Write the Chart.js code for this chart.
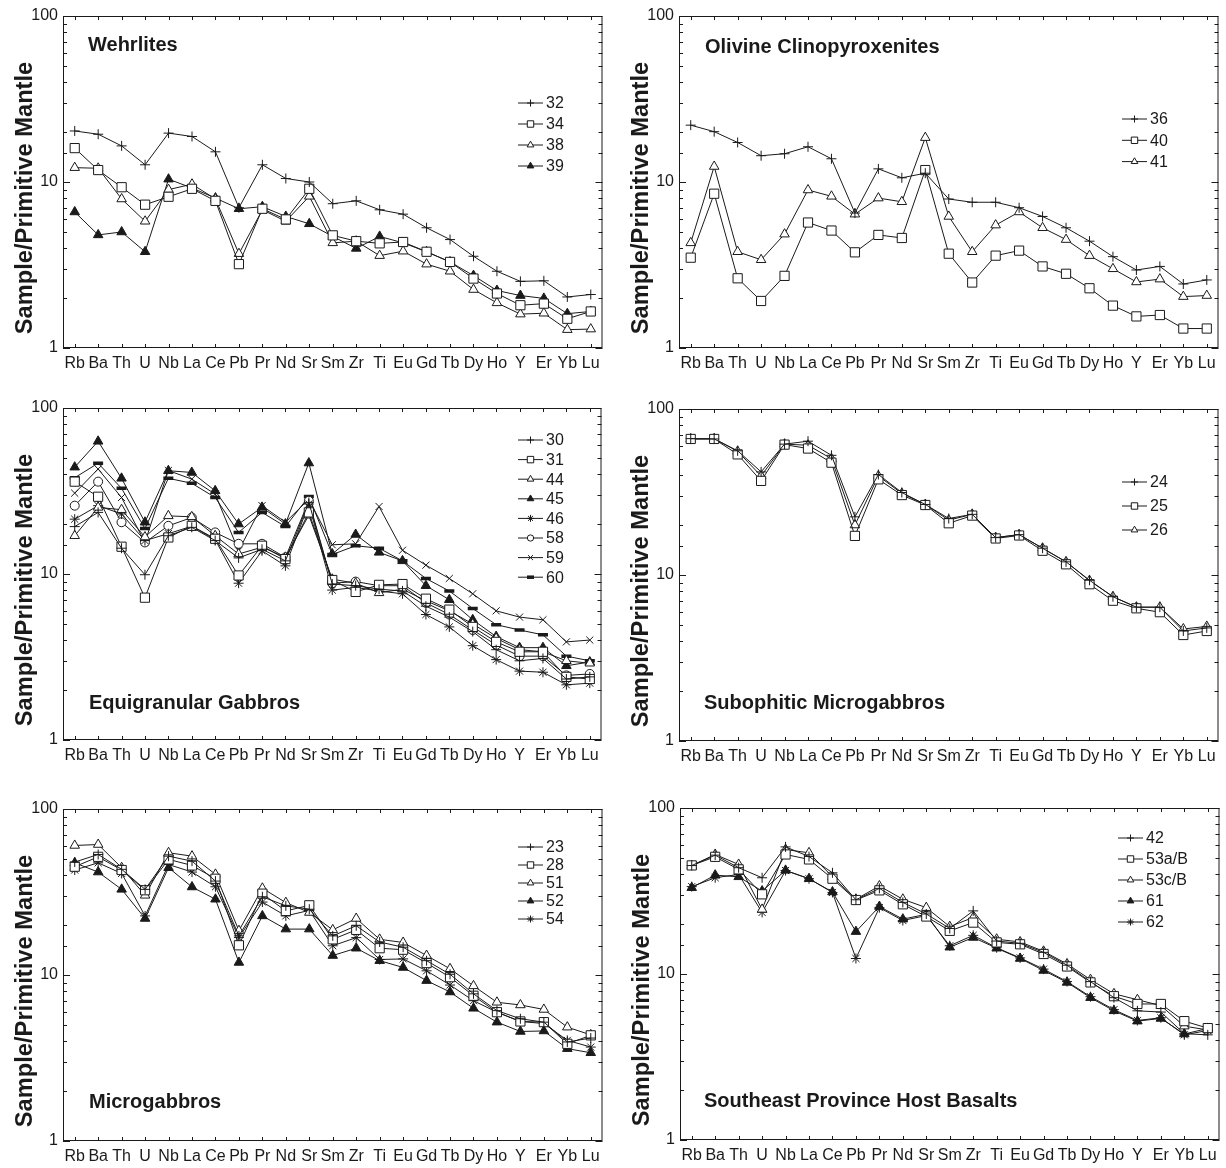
<!DOCTYPE html>
<html>
<head>
<meta charset="utf-8">
<script src="https://cdn.jsdelivr.net/npm/chart.js@4.4.1/dist/chart.umd.min.js"></script>
<style>
  html, body { margin: 0; padding: 0; background: #fff; overflow: hidden; }
  body { width: 1226px; height: 1168px; position: relative; }
  canvas { position: absolute; }
</style>
</head>
<body>
<canvas id="c1" width="610" height="381" style="left:0px;top:1px"></canvas>
<canvas id="c2" width="610" height="381" style="left:616px;top:1px"></canvas>
<canvas id="c3" width="610" height="381" style="left:0px;top:393px"></canvas>
<canvas id="c4" width="610" height="381" style="left:616px;top:394px"></canvas>
<canvas id="c5" width="610" height="381" style="left:0px;top:794px"></canvas>
<canvas id="c6" width="610" height="381" style="left:617px;top:793px"></canvas>
<script>
const elements = ["Rb","Ba","Th","U","Nb","La","Ce","Pb","Pr","Nd","Sr","Sm","Zr","Ti","Eu","Gd","Tb","Dy","Ho","Y","Er","Yb","Lu"];

// Wehrlites
const s32 = [20.3, 19.4, 16.5, 12.7, 19.7, 18.8, 15.2, 7.0, 12.7, 10.5, 10.0, 7.4, 7.7, 6.8, 6.4, 5.3, 4.5, 3.57, 2.9, 2.52, 2.54, 2.03, 2.1];
const s34 = [16.0, 11.8, 9.3, 7.3, 8.15, 9.1, 7.7, 3.2, 6.9, 5.95, 9.1, 4.77, 4.4, 4.27, 4.35, 3.8, 3.3, 2.62, 2.13, 1.81, 1.85, 1.5, 1.66];
const s38 = [12.2, 12.1, 7.9, 5.8, 9.0, 9.7, 7.9, 3.7, 6.8, 5.8, 8.2, 4.3, 4.4, 3.6, 3.83, 3.2, 2.9, 2.25, 1.87, 1.6, 1.62, 1.29, 1.3];
const s39 = [6.6, 4.8, 5.0, 3.8, 10.4, 9.2, 8.0, 6.9, 7.1, 6.2, 5.6, 4.7, 3.98, 4.7, 4.3, 3.8, 3.3, 2.73, 2.22, 2.07, 1.99, 1.61, 1.66];

// Olivine clinopyroxenites
const s36 = [22, 20.1, 17.3, 14.4, 14.8, 16.3, 13.8, 6.5, 12.0, 10.6, 11.3, 7.9, 7.55, 7.55, 7.0, 6.2, 5.3, 4.4, 3.55, 2.95, 3.1, 2.43, 2.57];
const s40 = [3.5, 8.5, 2.63, 1.92, 2.72, 5.7, 5.1, 3.77, 4.8, 4.6, 11.8, 3.7, 2.48, 3.6, 3.86, 3.1, 2.8, 2.29, 1.8, 1.55, 1.58, 1.31, 1.31];
const s41 = [4.3, 12.4, 3.8, 3.4, 4.85, 8.95, 8.2, 6.4, 8.0, 7.6, 18.5, 6.2, 3.8, 5.5, 6.6, 5.3, 4.5, 3.6, 3.0, 2.5, 2.6, 2.04, 2.07];

// Equigranular gabbros
const s30 = [19.3, 23.5, 14.3, 9.9, 17.0, 19.1, 15.9, 12.5, 14.1, 12.0, 27.0, 8.7, 8.5, 8.1, 7.9, 6.4, 5.5, 4.5, 3.5, 3.0, 3.1, 2.33, 2.4];
const s31 = [36, 29.2, 14.6, 7.2, 16.6, 19.5, 16.3, 9.8, 14.8, 12.3, 23.5, 9.2, 7.8, 8.6, 8.7, 7.1, 6.1, 4.8, 3.9, 3.4, 3.4, 2.4, 2.33];
const s44 = [17.0, 25.2, 24.4, 16.7, 22.4, 22.1, 17.0, 13.2, 14.5, 12.6, 22.6, 9.3, 8.8, 7.7, 8.1, 6.9, 6.0, 5.0, 4.1, 3.5, 3.4, 3.0, 2.9];
const s45 = [44, 63, 37.7, 20.5, 41.9, 40.9, 31.7, 20.0, 25.2, 20.0, 46.6, 13.2, 17.3, 13.5, 12.0, 8.5, 7.0, 5.3, 4.2, 3.6, 3.6, 2.8, 2.95];
const s46 = [21.4, 25.8, 23.0, 15.9, 17.5, 19.4, 16.1, 8.8, 13.8, 11.2, 26.4, 8.0, 8.3, 7.9, 7.6, 5.7, 4.8, 3.7, 3.05, 2.6, 2.56, 2.15, 2.2];
const s58 = [25.8, 36, 20.5, 15.5, 19.5, 21.9, 17.8, 15.2, 15.2, 12.6, 27.6, 8.8, 9.0, 8.5, 8.5, 6.7, 5.7, 4.6, 3.74, 3.2, 3.2, 2.45, 2.5];
const s59 = [30.7, 42.9, 28.9, 15.5, 42, 37.3, 30.3, 13.8, 25.8, 20.5, 28.2, 15.0, 15.2, 25.5, 13.9, 11.3, 9.4, 7.6, 6.0, 5.5, 5.3, 3.9, 4.0];
const s60 = [38, 46.5, 32.8, 18.8, 37.7, 35.2, 28.9, 17.8, 23.5, 19.3, 29.3, 13.1, 14.8, 14.3, 12.0, 9.4, 7.9, 6.2, 4.95, 4.6, 4.3, 3.2, 3.0];

// Subophitic microgabbros
const s24 = [66.3, 66, 56, 41.8, 61.4, 64, 52.6, 22.4, 40.3, 31.4, 26.6, 21.9, 23.2, 16.8, 17.5, 14.5, 12.0, 9.3, 7.4, 6.4, 6.4, 4.6, 4.8];
const s25 = [66, 66, 53.3, 36.9, 61, 57.8, 47.5, 17.2, 37.7, 30.3, 26.4, 20.5, 22.8, 16.6, 17.3, 14.0, 11.6, 8.8, 7.0, 6.3, 5.97, 4.35, 4.6];
const s26 = [66, 66.3, 55.6, 39.5, 61.4, 60.5, 50.2, 20, 39.5, 31, 26.6, 21.4, 23.2, 16.8, 17.5, 14.5, 12.0, 9.25, 7.4, 6.4, 6.4, 4.73, 4.9];

// Microgabbros
const s23 = [47.9, 53.2, 43.3, 32.8, 52, 48.5, 36.8, 17.2, 29.6, 26.1, 24.9, 17.2, 19.8, 15.8, 14.7, 12.2, 10.1, 7.7, 6.1, 5.45, 5.2, 3.95, 4.17];
const s28 = [44.9, 51.5, 42.9, 32.4, 49.7, 45.7, 38.0, 15.1, 30.9, 24.3, 26.3, 16.4, 18.7, 14.5, 14.2, 11.8, 9.7, 7.5, 5.97, 5.25, 5.2, 3.85, 4.33];
const s51 = [60.3, 61.1, 44.3, 30.2, 54.5, 52, 40.4, 18.5, 33.3, 27.3, 23.8, 18.7, 21.9, 16.4, 15.7, 13.1, 10.9, 8.6, 6.85, 6.6, 6.2, 4.85, 4.36];
const s52 = [47.4, 41.7, 32.8, 21.9, 44.3, 33.9, 28.6, 11.9, 22.7, 18.9, 18.9, 13.1, 14.5, 12.2, 11.1, 9.25, 7.9, 6.3, 5.2, 4.57, 4.6, 3.6, 3.4];
const s54 = [42.9, 47.4, 40.9, 22.7, 46.3, 41.7, 34.0, 16.8, 27.5, 22.7, 24.5, 15.0, 16.8, 12.4, 12.5, 10.6, 8.7, 7.0, 5.97, 5.25, 5.1, 4.04, 3.68];

// Southeast Province host basalts
const s42 = [45, 52, 43.7, 38, 58.3, 51, 40.7, 28, 32.8, 27, 23, 18.8, 24, 15.8, 15.3, 13.5, 11.3, 9.0, 7.2, 6.0, 5.9, 4.37, 4.3];
const s53a = [45.1, 50.8, 42.7, 30.2, 52.5, 49, 37.5, 27.9, 31.9, 26.3, 22.2, 18.2, 20.4, 15.5, 15.1, 13.2, 11.1, 8.9, 7.35, 6.6, 6.6, 5.2, 4.72];
const s53c = [45, 52.5, 45.7, 24.5, 56.2, 53.7, 38.5, 28.2, 33.9, 28.2, 25.1, 19.3, 21.9, 16.2, 15.6, 13.7, 11.5, 9.25, 7.6, 7.0, 6.45, 4.85, 4.6];
const s61 = [33.1, 39.4, 38.5, 31.6, 42.1, 37.5, 31.2, 18.0, 25.5, 21.4, 22.9, 14.5, 16.6, 14.3, 12.4, 10.5, 8.9, 7.2, 6.0, 5.2, 5.4, 4.35, 4.7];
const s62 = [33.6, 38.0, 39.8, 23.5, 42, 37.5, 31, 12.4, 25.1, 21, 22.5, 14.8, 17.1, 14.4, 12.5, 10.7, 9.0, 7.3, 6.1, 5.25, 5.45, 4.3, 4.57];

const yLabels = [1, 10, 100];
const yTitle = "Sample/Primitive Mantle";

const INK = "#1a1a1a";
const FONT = '"Liberation Sans", Arial, Helvetica, sans-serif';

const markers = {
  plus:      { pointStyle: "cross",    pointRadius: 5,   pointBorderWidth: 1,   pointBackgroundColor: "#fff" },
  square:    { pointStyle: "rect",     pointRadius: 6.5, pointBorderWidth: 1,   pointBackgroundColor: "#fff" },
  tri:       { pointStyle: "triangle", pointRadius: 5.5, pointBorderWidth: 1,   pointBackgroundColor: "#fff" },
  filledTri: { pointStyle: "triangle", pointRadius: 5.5, pointBorderWidth: 1,   pointBackgroundColor: INK },
  star:      { pointStyle: "star",     pointRadius: 5,   pointBorderWidth: 1,   pointBackgroundColor: "#fff" },
  circle:    { pointStyle: "circle",   pointRadius: 4.5, pointBorderWidth: 1,   pointBackgroundColor: "#fff" },
  ex:        { pointStyle: "crossRot", pointRadius: 5,   pointBorderWidth: 1,   pointBackgroundColor: "#fff" },
  bar:       { pointStyle: "line",     pointRadius: 5,   pointBorderWidth: 3.5, pointBackgroundColor: INK }
};

const panels = [
  { id: "c1", title: "Wehrlites", titleAt: [25, 29], legend: [455, 87, 21],
    series: [["32", s32, "plus"], ["34", s34, "square"], ["38", s38, "tri"], ["39", s39, "filledTri"]] },
  { id: "c2", title: "Olivine Clinopyroxenites", titleAt: [26, 31], legend: [443, 103, 21.3],
    series: [["36", s36, "plus"], ["40", s40, "square"], ["41", s41, "tri"]] },
  { id: "c3", title: "Equigranular Gabbros", titleAt: [26, 295], legend: [455, 32, 19.6],
    series: [["30", s30, "plus"], ["31", s31, "square"], ["44", s44, "tri"], ["45", s45, "filledTri"],
             ["46", s46, "star"], ["58", s58, "circle"], ["59", s59, "ex"], ["60", s60, "bar"]] },
  { id: "c4", title: "Subophitic Microgabbros", titleAt: [25, 294], legend: [443, 73, 24],
    series: [["24", s24, "plus"], ["25", s25, "square"], ["26", s26, "tri"]] },
  { id: "c5", title: "Microgabbros", titleAt: [26, 293], legend: [455, 38, 18],
    series: [["23", s23, "plus"], ["28", s28, "square"], ["51", s51, "tri"], ["52", s52, "filledTri"], ["54", s54, "star"]] },
  { id: "c6", title: "Southeast Province Host Basalts", titleAt: [24, 293], legend: [438, 30, 21],
    series: [["42", s42, "plus"], ["53a/B", s53a, "square"], ["53c/B", s53c, "tri"], ["61", s61, "filledTri"], ["62", s62, "star"]] }
];

function drawMarker(ctx, ds, x, y, scale) {
  const opts = { pointStyle: ds.pointStyle, radius: ds.pointRadius * scale, rotation: 0, borderWidth: ds.pointBorderWidth };
  ctx.save();
  ctx.fillStyle = ds.pointBackgroundColor;
  ctx.strokeStyle = INK;
  ctx.lineWidth = ds.pointBorderWidth;
  Chart.helpers.drawPoint(ctx, opts, x, y);
  ctx.restore();
}

const framePlugin = {
  id: "frame",
  afterDraw(chart, args, opts) {
    const { ctx, chartArea: a, scales } = chart;
    const p = opts.panel;
    ctx.save();
    ctx.strokeStyle = INK;
    ctx.lineWidth = 1;
    ctx.strokeRect(a.left + 0.5, a.top + 0.5, a.right - a.left - 1, a.bottom - a.top - 1);

    // inward ticks
    ctx.beginPath();
    elements.forEach((el, i) => {
      const px = Math.round(scales.x.getPixelForValue(i)) + 0.5;
      ctx.moveTo(px, a.top); ctx.lineTo(px, a.top + 4);
      ctx.moveTo(px, a.bottom); ctx.lineTo(px, a.bottom - 4);
    });
    scales.y.ticks.forEach(t => {
      const py = Math.round(scales.y.getPixelForValue(t.value)) + 0.5;
      const len = yLabels.includes(t.value) ? 7 : 4;
      ctx.moveTo(a.left, py); ctx.lineTo(a.left + len, py);
      ctx.moveTo(a.right, py); ctx.lineTo(a.right - len, py);
    });
    ctx.stroke();

    // axis title
    ctx.fillStyle = INK;
    ctx.save();
    ctx.translate(a.left - 38, (a.top + a.bottom) / 2 + 16);
    ctx.rotate(-Math.PI / 2);
    ctx.font = "bold 23.7px " + FONT;
    ctx.textAlign = "center";
    ctx.textBaseline = "middle";
    ctx.fillText(yTitle, 0, 0);
    ctx.restore();

    // panel title
    ctx.font = "bold 20px " + FONT;
    ctx.textAlign = "left";
    ctx.textBaseline = "middle";
    ctx.fillText(p.title, a.left + p.titleAt[0], a.top + p.titleAt[1]);

    // legend
    const [lx, ly, gap] = p.legend;
    ctx.font = "16px " + FONT;
    chart.data.datasets.forEach((ds, i) => {
      const x0 = a.left + lx, y0 = a.top + ly + i * gap;
      ctx.beginPath();
      ctx.moveTo(x0, y0); ctx.lineTo(x0 + 25, y0);
      ctx.stroke();
      drawMarker(ctx, ds, x0 + 12.5, y0, 0.7);
      ctx.fillStyle = INK;
      ctx.fillText(ds.label, x0 + 28, y0 + 1);
    });
    ctx.restore();
  }
};

panels.forEach(p => {
  new Chart(document.getElementById(p.id), {
    type: "line",
    data: {
      labels: elements,
      datasets: p.series.map(([label, values, m]) => Object.assign({
        label: label,
        data: values,
        borderColor: INK,
        borderWidth: 1,
        pointBorderColor: INK,
        fill: false,
        tension: 0
      }, markers[m]))
    },
    options: {
      responsive: false,
      animation: false,
      events: [],
      layout: { padding: { left: 10, top: 15, right: 7, bottom: 0 } },
      plugins: {
        legend: { display: false },
        tooltip: { enabled: false },
        frame: { panel: p }
      },
      scales: {
        x: {
          type: "category",
          offset: true,
          grid: { display: false, drawTicks: false },
          border: { display: false },
          ticks: { autoSkip: false, maxRotation: 0, minRotation: 0, padding: 6, color: INK, font: { family: FONT, size: 16 } },
          afterFit: s => { s.height = 34; }
        },
        y: {
          type: "logarithmic",
          min: 1,
          max: 100,
          grid: { display: false, drawTicks: false },
          border: { display: false },
          ticks: {
            autoSkip: false,
            padding: 5,
            color: INK,
            font: { family: FONT, size: 16 },
            callback: v => yLabels.includes(v) ? String(v) : ""
          },
          afterFit: s => { s.width = 53; }
        }
      }
    },
    plugins: [framePlugin]
  });
});
</script>
</body>
</html>
